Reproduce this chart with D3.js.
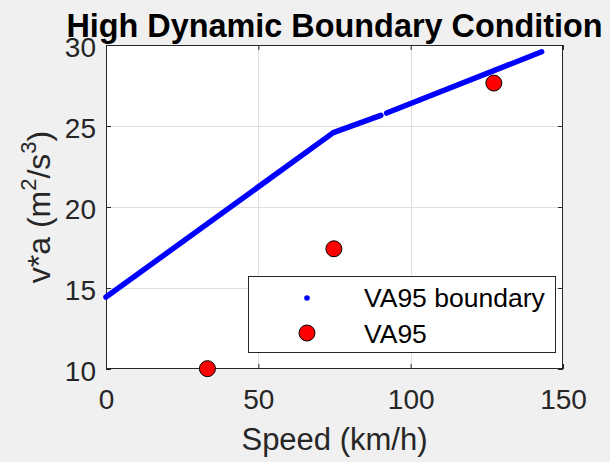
<!DOCTYPE html>
<html>
<head>
<meta charset="utf-8">
<script src="https://cdn.jsdelivr.net/npm/d3@7"></script>
<style>
  html, body { margin: 0; padding: 0; background: #f0f0f0; }
  svg { display: block; font-family: "Liberation Sans", Arial, Helvetica, sans-serif; }
</style>
</head>
<body>
<svg id="chart" width="610" height="462"></svg>
<script>
// VA95 boundary: piecewise-linear threshold, drawn as two runs of points
const boundarySpeedA = [0, 74.6, 90.2];
const boundaryValueA = [14.44, 24.59, 25.66];
const boundarySpeedB = [92.1, 143];
const boundaryValueB = [25.80, 29.58];

// Measured VA95 values
const measSpeed = [33.3, 74.8, 127.3];
const measValue = [10.02, 17.42, 27.65];

const xTicks = [0, 50, 100, 150];
const yTicks = [10, 15, 20, 25, 30];

const m = { left: 106, right: 563, top: 45, bottom: 369 };
const svg = d3.select("#chart");

const x = d3.scaleLinear().domain([0, 150]).range([m.left, m.right]);
const y = d3.scaleLinear().domain([10, 30]).range([m.bottom, m.top]);

const axisColor = "#262626";

// plot area
svg.append("rect")
  .attr("x", m.left).attr("y", m.top)
  .attr("width", m.right - m.left).attr("height", m.bottom - m.top)
  .attr("fill", "#ffffff");

// grid
const grid = svg.append("g").attr("stroke", "#dfdfdf").attr("stroke-width", 1);
xTicks.slice(1, -1).forEach(t => grid.append("line")
  .attr("x1", Math.round(x(t)) + 0.5).attr("x2", Math.round(x(t)) + 0.5)
  .attr("y1", m.top).attr("y2", m.bottom));
yTicks.slice(1, -1).forEach(t => grid.append("line")
  .attr("y1", Math.round(y(t)) + 0.5).attr("y2", Math.round(y(t)) + 0.5)
  .attr("x1", m.left).attr("x2", m.right));

// axes with inward ticks, mirrored on top/right
const tickLen = 5;
const fmt = d3.format("d");
const bottomAxis = svg.append("g").attr("transform", `translate(0,${m.bottom})`)
  .call(d3.axisBottom(x).tickValues(xTicks).tickFormat(fmt).tickSizeInner(-tickLen).tickSizeOuter(0).tickPadding(20));
const leftAxis = svg.append("g").attr("transform", `translate(${m.left},0)`)
  .call(d3.axisLeft(y).tickValues(yTicks).tickFormat(fmt).tickSizeInner(-tickLen).tickSizeOuter(0).tickPadding(10));
const topAxis = svg.append("g").attr("transform", `translate(0,${m.top})`)
  .call(d3.axisTop(x).tickValues(xTicks).tickFormat("").tickSizeInner(-tickLen).tickSizeOuter(0));
const rightAxis = svg.append("g").attr("transform", `translate(${m.right},0)`)
  .call(d3.axisRight(y).tickValues(yTicks).tickFormat("").tickSizeInner(-tickLen).tickSizeOuter(0));
[bottomAxis, leftAxis, topAxis, rightAxis].forEach(g => {
  g.select(".domain").remove();
  g.selectAll("line").attr("stroke", axisColor);
  g.selectAll("text").attr("fill", axisColor).attr("font-size", 28)
    .attr("font-family", "'Liberation Sans', Arial, sans-serif");
});
bottomAxis.selectAll("text").attr("dy", "0.71em");
leftAxis.selectAll("text").attr("dy", "0.4em");

// box
svg.append("rect")
  .attr("x", m.left + 0.5).attr("y", m.top + 0.5)
  .attr("width", m.right - m.left - 1).attr("height", m.bottom - m.top - 1)
  .attr("fill", "none").attr("stroke", axisColor).attr("stroke-width", 1);

// boundary line
const line = d3.line().x(d => x(d[0])).y(d => y(d[1]));
[[boundarySpeedA, boundaryValueA], [boundarySpeedB, boundaryValueB]].forEach(([sx, sy]) => {
  svg.append("path")
    .attr("d", line(sx.map((s, i) => [s, sy[i]])))
    .attr("fill", "none").attr("stroke", "#0000ff")
    .attr("stroke-width", 5.5).attr("stroke-linecap", "round").attr("stroke-linejoin", "round");
});

// measured points
svg.append("g").selectAll("circle")
  .data(measSpeed.map((s, i) => [s, measValue[i]]))
  .join("circle")
  .attr("cx", d => x(d[0])).attr("cy", d => y(d[1]))
  .attr("r", 8).attr("fill", "#ff0000").attr("stroke", "#000000").attr("stroke-width", 1);

// legend
const lg = svg.append("g");
lg.append("rect").attr("x", 248.5).attr("y", 276.5).attr("width", 307).attr("height", 76)
  .attr("fill", "#ffffff").attr("stroke", axisColor).attr("stroke-width", 1);
lg.append("circle").attr("cx", 307).attr("cy", 298).attr("r", 2.8).attr("fill", "#0000ff");
lg.append("circle").attr("cx", 307).attr("cy", 333).attr("r", 8)
  .attr("fill", "#ff0000").attr("stroke", "#000000").attr("stroke-width", 1);
lg.append("text").attr("x", 364).attr("y", 307).attr("font-size", 26.5).attr("fill", "#000")
  .text("VA95 boundary");
lg.append("text").attr("x", 364).attr("y", 343).attr("font-size", 26.5).attr("fill", "#000")
  .text("VA95");

// title
svg.append("text").attr("x", (m.left + m.right) / 2).attr("y", 37)
  .attr("text-anchor", "middle").attr("font-size", 32.4).attr("font-weight", "bold").attr("fill", "#000")
  .text("High Dynamic Boundary Condition");

// axis labels
svg.append("text").attr("x", (m.left + m.right) / 2).attr("y", 450)
  .attr("text-anchor", "middle").attr("font-size", 31).attr("fill", axisColor)
  .text("Speed (km/h)");

const yl = svg.append("text")
  .attr("transform", `translate(50,${(m.top + m.bottom) / 2}) rotate(-90)`)
  .attr("text-anchor", "middle").attr("font-size", 32).attr("fill", axisColor);
yl.append("tspan").text("v*a (m");
yl.append("tspan").attr("dy", -14).attr("font-size", 22).text("2");
yl.append("tspan").attr("dy", 14).text("/s");
yl.append("tspan").attr("dy", -14).attr("font-size", 22).text("3");
yl.append("tspan").attr("dy", 14).text(")");
</script>
</body>
</html>
